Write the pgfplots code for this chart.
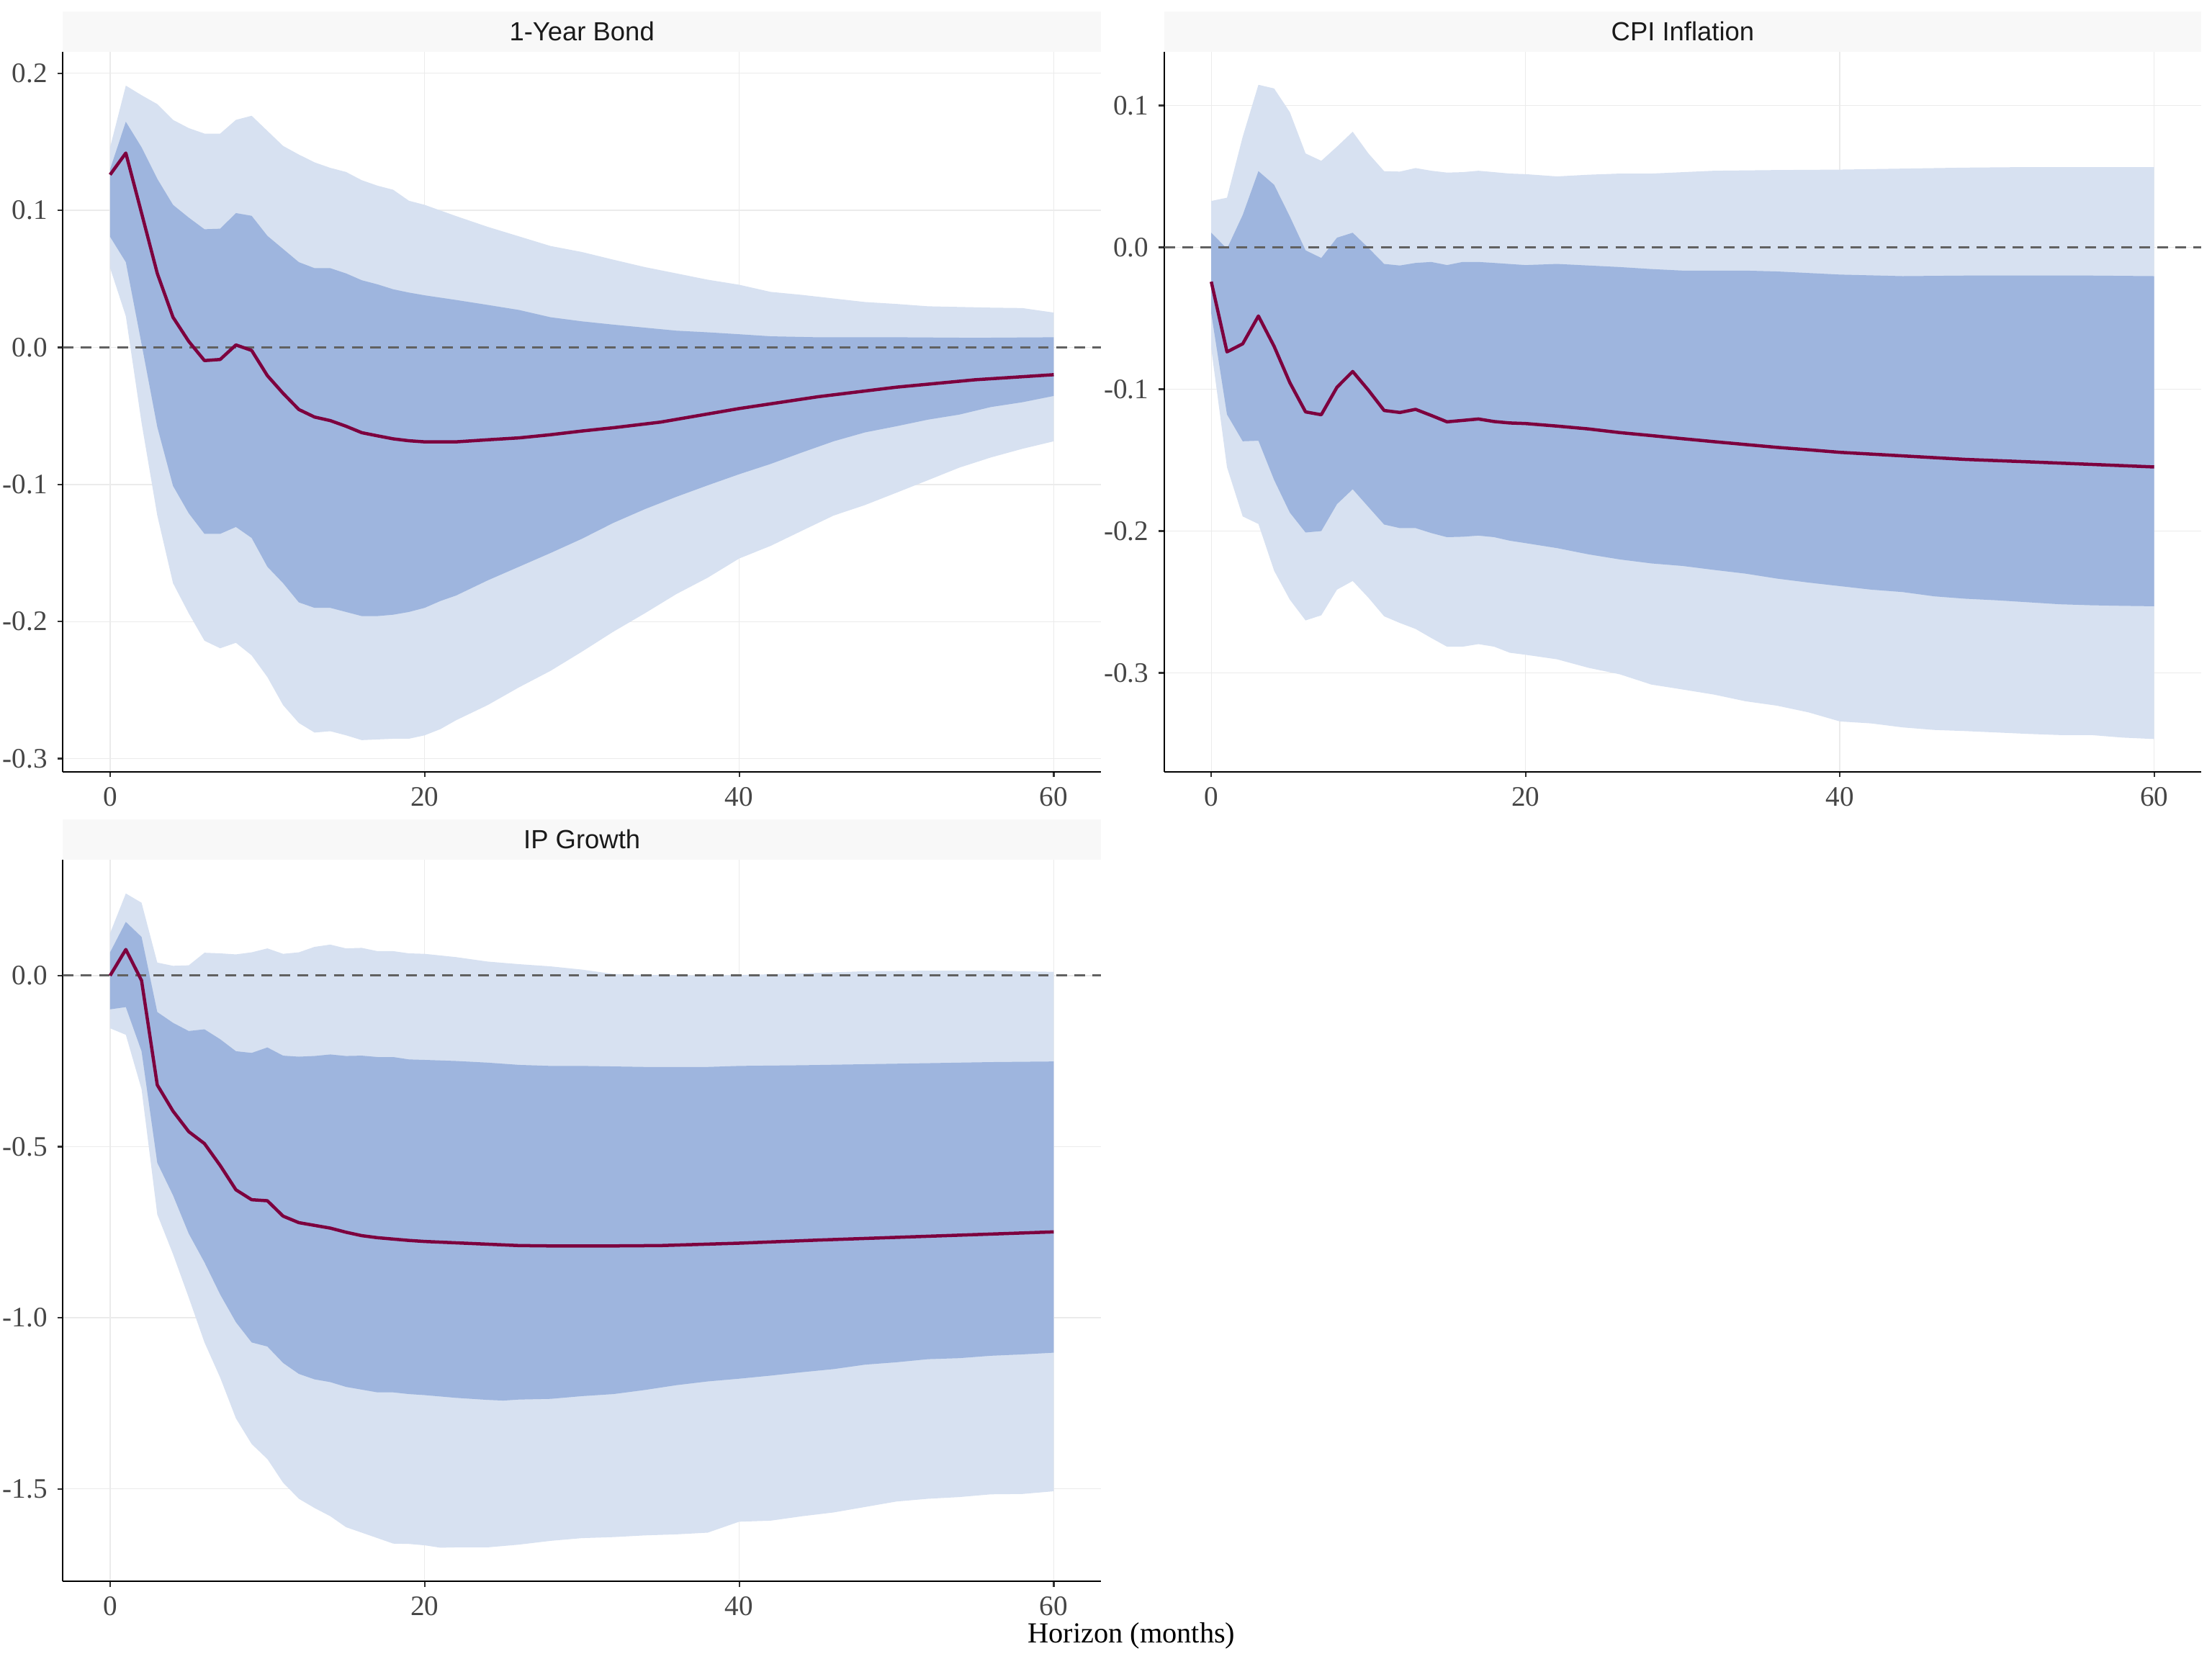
\documentclass[border=0pt]{standalone}
\usepackage{fontspec}
\setmainfont{Liberation Serif}
\newfontfamily\stripfont{Liberation Sans}
\usepackage{pgfplots}
\pgfplotsset{compat=1.18}
\usepgfplotslibrary{fillbetween}
\definecolor{bandlight}{RGB}{215,225,241}
\definecolor{banddark}{RGB}{158,181,222}
\definecolor{medline}{RGB}{125,0,62}
\definecolor{striptext}{RGB}{26,26,26}
\definecolor{stripbg}{RGB}{248,248,248}
\definecolor{ticklab}{RGB}{70,70,70}
\definecolor{gridc}{RGB}{235,235,235}
\pgfplotsset{
 irf/.style={
  scale only axis,
  anchor=south west,
  xmin=-3, xmax=63,
  axis x line*=bottom, axis y line*=left,
  axis line style={-, black, line width=0.55pt},
  xtick={0,20,40,60},
  xticklabels={0,20,40,60},
  tick align=outside,
  major tick length=2pt,
  tick style={color=black!80, line width=0.55pt},
  grid=major,
  major grid style={color=gridc, line width=0.35pt},
  tick label style={font=\fontsize{10}{12}\selectfont, text=ticklab},
 },
 hl/.style={draw=black!62, line width=0.8pt, dash pattern=on 3.8pt off 2.6pt},
 med/.style={draw=medline, line width=1.15pt, line join=round},
}
\begin{document}
\begin{tikzpicture}
% strips
\fill[stripbg] (22.3pt,569.5pt) rectangle (390.2pt,584pt);
\node[anchor=base, font=\stripfont\fontsize{9.3}{11}\selectfont, text=striptext] at (206.25pt,573.6pt) {1-Year Bond};
\fill[stripbg] (412.6pt,569.5pt) rectangle (780.2pt,584pt);
\node[anchor=base, font=\stripfont\fontsize{9.3}{11}\selectfont, text=striptext] at (596.4pt,573.6pt) {CPI Inflation};
\fill[stripbg] (22.3pt,283.2pt) rectangle (390.2pt,297.5pt);
\node[anchor=base, font=\stripfont\fontsize{9.3}{11}\selectfont, text=striptext] at (206.25pt,287.2pt) {IP Growth};
\node[anchor=base, font=\fontsize{10.3}{12}\selectfont, text=black] at (401pt,5.8pt) {Horizon (months)};

% ---------- Panel 1: 1-Year Bond ----------
\begin{axis}[irf, at={(22.3pt,314.5pt)}, width=367.9pt, height=255pt,
  ymin=-0.3095, ymax=0.2154,
  ytick={-0.3,-0.2,-0.1,0,0.1,0.2}, yticklabels={-0.3,-0.2,-0.1,0.0,0.1,0.2}]
\addplot[draw=none, name path=ou1] coordinates {(0,0.146)(1,0.191)(2,0.184)(3,0.1775)(4,0.166)(5,0.160)(6,0.156)(7,0.156)(8,0.166)(9,0.169)(10,0.158)(11,0.147)(12,0.1407)(13,0.135)(14,0.131)(15,0.128)(16,0.122)(17,0.118)(18,0.115)(19,0.107)(20,0.104)(22,0.0958)(24,0.088)(26,0.081)(28,0.074)(30,0.0696)(32,0.064)(34,0.0586)(36,0.054)(38,0.0494)(40,0.0457)(42,0.0405)(44,0.0383)(46,0.0357)(48,0.0331)(50,0.0317)(52,0.030)(54,0.0295)(56,0.029)(58,0.0287)(60,0.0254)};
\addplot[draw=none, name path=ol1] coordinates {(0,0.058)(1,0.0228)(2,-0.055)(3,-0.1226)(4,-0.172)(5,-0.194)(6,-0.214)(7,-0.2195)(8,-0.2155)(9,-0.2247)(10,-0.2405)(11,-0.261)(12,-0.274)(13,-0.281)(14,-0.280)(15,-0.283)(16,-0.2865)(17,-0.286)(18,-0.2855)(19,-0.2855)(20,-0.283)(21,-0.2785)(22,-0.272)(24,-0.261)(26,-0.248)(28,-0.236)(30,-0.222)(32,-0.2074)(34,-0.194)(36,-0.180)(38,-0.168)(40,-0.154)(42,-0.1448)(44,-0.1337)(46,-0.1227)(48,-0.115)(50,-0.106)(52,-0.0969)(54,-0.0877)(56,-0.0803)(58,-0.074)(60,-0.0685)};
\addplot[draw=none, name path=iu1] coordinates {(0,0.130)(1,0.1646)(2,0.146)(3,0.123)(4,0.104)(5,0.0947)(6,0.0862)(7,0.0866)(8,0.098)(9,0.096)(10,0.0814)(11,0.0718)(12,0.0622)(13,0.0578)(14,0.0578)(15,0.054)(16,0.049)(17,0.046)(18,0.0424)(19,0.040)(20,0.038)(22,0.0346)(24,0.031)(26,0.0273)(28,0.022)(30,0.019)(32,0.0166)(34,0.0144)(36,0.0122)(38,0.011)(40,0.0096)(42,0.0081)(45,0.0074)(50,0.0074)(55,0.007)(60,0.0074)};
\addplot[draw=none, name path=il1] coordinates {(0,0.0807)(1,0.0622)(2,0.0026)(3,-0.058)(4,-0.101)(5,-0.121)(6,-0.136)(7,-0.136)(8,-0.131)(9,-0.139)(10,-0.160)(11,-0.172)(12,-0.186)(13,-0.190)(14,-0.190)(15,-0.193)(16,-0.196)(17,-0.196)(18,-0.195)(19,-0.193)(20,-0.190)(21,-0.185)(22,-0.181)(24,-0.170)(26,-0.160)(28,-0.150)(30,-0.1396)(32,-0.128)(34,-0.118)(36,-0.109)(38,-0.1006)(40,-0.0925)(42,-0.085)(44,-0.0766)(46,-0.0685)(48,-0.062)(50,-0.0575)(52,-0.0527)(54,-0.049)(56,-0.0435)(58,-0.040)(60,-0.0354)};
\addplot[fill=bandlight, draw=none] fill between[of=ou1 and ol1];
\addplot[fill=banddark, draw=none] fill between[of=iu1 and il1];
\addplot[hl] coordinates {(-3,0)(63,0)};
\addplot[med] coordinates {(0,0.126)(1,0.1418)(2,0.098)(3,0.054)(4,0.022)(5,0.0044)(6,-0.0096)(7,-0.0088)(8,0.0018)(9,-0.0022)(10,-0.0206)(11,-0.0335)(12,-0.0453)(13,-0.0508)(14,-0.0534)(15,-0.0575)(16,-0.0622)(17,-0.0645)(18,-0.0667)(19,-0.0681)(20,-0.0689)(22,-0.0689)(24,-0.0674)(26,-0.066)(28,-0.0637)(30,-0.061)(32,-0.0586)(35,-0.0545)(40,-0.0446)(45,-0.036)(50,-0.029)(55,-0.0236)(60,-0.0199)};
\end{axis}

% ---------- Panel 2: CPI Inflation ----------
\begin{axis}[irf, at={(412.6pt,314.5pt)}, width=367.6pt, height=255pt,
  ymin=-0.3696, ymax=0.1376,
  ytick={-0.3,-0.2,-0.1,0,0.1}, yticklabels={-0.3,-0.2,-0.1,0.0,0.1}]
\addplot[draw=none, name path=ou2] coordinates {(0,0.0327)(1,0.035)(2,0.078)(3,0.1146)(4,0.112)(5,0.0953)(6,0.0662)(7,0.061)(8,0.071)(9,0.0815)(10,0.0662)(11,0.0537)(12,0.0534)(13,0.0559)(14,0.054)(15,0.0527)(16,0.053)(17,0.054)(18,0.053)(19,0.052)(20,0.0516)(22,0.050)(24,0.0512)(26,0.052)(28,0.052)(30,0.053)(32,0.054)(36,0.0545)(40,0.0548)(44,0.0555)(48,0.0562)(52,0.0566)(56,0.0566)(60,0.0566)};
\addplot[draw=none, name path=ol2] coordinates {(0,-0.0715)(1,-0.155)(2,-0.1897)(3,-0.195)(4,-0.228)(5,-0.2484)(6,-0.263)(7,-0.2594)(8,-0.2413)(9,-0.2352)(10,-0.247)(11,-0.2601)(12,-0.2648)(13,-0.269)(14,-0.2754)(15,-0.2815)(16,-0.2815)(17,-0.2797)(18,-0.2815)(19,-0.2858)(20,-0.2872)(22,-0.2904)(24,-0.2964)(26,-0.301)(28,-0.3082)(30,-0.3117)(32,-0.3153)(34,-0.32)(36,-0.3231)(38,-0.3278)(40,-0.3342)(42,-0.3356)(44,-0.3384)(46,-0.3402)(48,-0.341)(50,-0.342)(52,-0.343)(54,-0.3438)(56,-0.3438)(58,-0.3456)(60,-0.3466)};
\addplot[draw=none, name path=iu2] coordinates {(0,0.0103)(1,-0.001)(2,0.0228)(3,0.0537)(4,0.0441)(5,0.0217)(6,-0.0021)(7,-0.0075)(8,0.0068)(9,0.0103)(10,-0.0004)(11,-0.0117)(12,-0.0128)(13,-0.011)(14,-0.0103)(15,-0.0125)(16,-0.0103)(17,-0.0103)(18,-0.011)(20,-0.0125)(22,-0.0117)(24,-0.0128)(26,-0.0139)(28,-0.0153)(30,-0.0164)(34,-0.0164)(36,-0.017)(40,-0.0192)(44,-0.0203)(48,-0.0199)(52,-0.0199)(56,-0.0199)(60,-0.0203)};
\addplot[draw=none, name path=il2] coordinates {(0,-0.0466)(1,-0.1178)(2,-0.1367)(3,-0.1363)(4,-0.164)(5,-0.187)(6,-0.201)(7,-0.2)(8,-0.181)(9,-0.1705)(10,-0.183)(11,-0.1954)(12,-0.1979)(13,-0.1979)(14,-0.2014)(15,-0.2043)(16,-0.204)(17,-0.2032)(18,-0.2043)(19,-0.2068)(20,-0.2085)(22,-0.212)(24,-0.2164)(26,-0.22)(28,-0.2228)(30,-0.2246)(32,-0.2274)(34,-0.23)(36,-0.2335)(38,-0.2363)(40,-0.2388)(42,-0.2413)(44,-0.243)(46,-0.246)(48,-0.2477)(50,-0.2488)(52,-0.2502)(54,-0.2516)(56,-0.2523)(58,-0.2527)(60,-0.253)};
\addplot[fill=bandlight, draw=none] fill between[of=ou2 and ol2];
\addplot[fill=banddark, draw=none] fill between[of=iu2 and il2];
\addplot[hl] coordinates {(-3,0)(63,0)};
\addplot[med] coordinates {(0,-0.0242)(1,-0.0737)(2,-0.068)(3,-0.0484)(4,-0.0698)(5,-0.0954)(6,-0.116)(7,-0.118)(8,-0.0986)(9,-0.0875)(10,-0.1007)(11,-0.115)(12,-0.1164)(13,-0.1142)(14,-0.1185)(15,-0.123)(16,-0.122)(17,-0.121)(18,-0.1228)(19,-0.1238)(20,-0.1242)(22,-0.126)(24,-0.128)(26,-0.1306)(28,-0.1327)(30,-0.1349)(32,-0.137)(34,-0.139)(36,-0.141)(38,-0.1427)(40,-0.1445)(44,-0.147)(48,-0.1495)(52,-0.1512)(56,-0.153)(60,-0.1548)};
\end{axis}

% ---------- Panel 3: IP Growth ----------
\begin{axis}[irf, at={(22.3pt,27.5pt)}, width=367.9pt, height=255.7pt,
  ymin=-1.7705, ymax=0.338,
  ytick={-1.5,-1,-0.5,0}, yticklabels={-1.5,-1.0,-0.5,0.0}]
\addplot[draw=none, name path=ou3] coordinates {(0,0.124)(1,0.240)(2,0.213)(3,0.038)(4,0.0286)(5,0.030)(6,0.0668)(7,0.065)(8,0.062)(9,0.068)(10,0.0795)(11,0.0636)(12,0.068)(13,0.084)(14,0.0906)(15,0.0795)(16,0.081)(17,0.0715)(18,0.0715)(19,0.065)(20,0.0636)(22,0.054)(24,0.041)(26,0.0334)(28,0.027)(30,0.0175)(32,0.0048)(34,0.0016)(36,0.0016)(38,0.0)(40,0.0016)(44,0.0064)(48,0.0127)(52,0.0143)(56,0.0143)(60,0.011)};
\addplot[draw=none, name path=ol3] coordinates {(0,-0.154)(1,-0.173)(2,-0.332)(3,-0.698)(4,-0.814)(5,-0.941)(6,-1.072)(7,-1.175)(8,-1.294)(9,-1.369)(10,-1.413)(11,-1.482)(12,-1.529)(13,-1.556)(14,-1.580)(15,-1.612)(16,-1.628)(17,-1.644)(18,-1.66)(19,-1.661)(20,-1.665)(21,-1.672)(22,-1.671)(24,-1.671)(26,-1.663)(28,-1.652)(30,-1.644)(32,-1.641)(34,-1.636)(36,-1.633)(38,-1.628)(40,-1.596)(42,-1.593)(44,-1.580)(46,-1.569)(48,-1.553)(50,-1.537)(52,-1.529)(54,-1.524)(56,-1.516)(58,-1.515)(60,-1.507)};
\addplot[draw=none, name path=iu3] coordinates {(0,0.068)(1,0.157)(2,0.113)(3,-0.1065)(4,-0.138)(5,-0.162)(6,-0.157)(7,-0.186)(8,-0.221)(9,-0.226)(10,-0.21)(11,-0.234)(12,-0.237)(13,-0.235)(14,-0.2305)(15,-0.235)(16,-0.234)(17,-0.238)(18,-0.238)(19,-0.245)(20,-0.2464)(22,-0.2496)(24,-0.2544)(26,-0.261)(28,-0.264)(30,-0.264)(34,-0.267)(38,-0.267)(40,-0.264)(44,-0.262)(48,-0.259)(52,-0.256)(56,-0.2528)(60,-0.251)};
\addplot[draw=none, name path=il3] coordinates {(0,-0.0986)(1,-0.092)(2,-0.221)(3,-0.547)(4,-0.642)(5,-0.754)(6,-0.838)(7,-0.932)(8,-1.013)(9,-1.072)(10,-1.084)(11,-1.132)(12,-1.164)(13,-1.18)(14,-1.188)(15,-1.202)(16,-1.21)(17,-1.218)(18,-1.218)(19,-1.223)(20,-1.226)(22,-1.234)(24,-1.24)(25,-1.242)(26,-1.239)(28,-1.237)(30,-1.229)(32,-1.223)(34,-1.211)(36,-1.197)(38,-1.186)(40,-1.178)(42,-1.169)(44,-1.159)(46,-1.15)(48,-1.137)(50,-1.13)(52,-1.121)(54,-1.118)(56,-1.111)(58,-1.107)(60,-1.102)};
\addplot[fill=bandlight, draw=none] fill between[of=ou3 and ol3];
\addplot[fill=banddark, draw=none] fill between[of=iu3 and il3];
\addplot[hl] coordinates {(-3,0)(63,0)};
\addplot[med] coordinates {(0,0.0)(1,0.0763)(2,-0.0143)(3,-0.3196)(4,-0.396)(5,-0.456)(6,-0.491)(7,-0.555)(8,-0.626)(9,-0.655)(10,-0.658)(11,-0.703)(12,-0.722)(13,-0.73)(14,-0.738)(15,-0.750)(16,-0.760)(17,-0.766)(18,-0.770)(19,-0.774)(20,-0.777)(22,-0.781)(24,-0.785)(26,-0.789)(28,-0.790)(30,-0.790)(32,-0.790)(35,-0.789)(40,-0.782)(45,-0.773)(50,-0.765)(55,-0.757)(60,-0.749)};
\end{axis}
\pgfresetboundingbox
\path[use as bounding box] (0pt,0pt) rectangle (784pt,588pt);
\end{tikzpicture}
\end{document}
